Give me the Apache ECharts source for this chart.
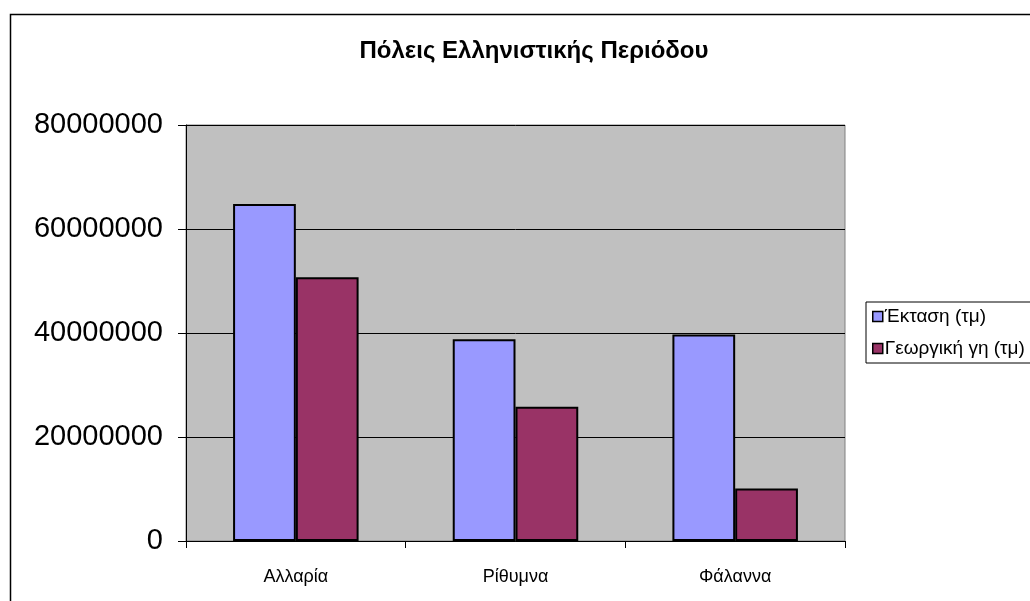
<!DOCTYPE html>
<html>
<head>
<meta charset="utf-8">
<script src="https://cdn.jsdelivr.net/npm/echarts@6/dist/echarts.min.js"></script>
<style>
html,body{margin:0;padding:0;background:#fff;}
#chart{width:1030px;height:601px;}
</style>
</head>
<body>
<div id="chart"></div>
<script>
var categories = ['Αλλαρία', 'Ρίθυμνα', 'Φάλαννα'];
var seriesNames = ['Έκταση (τμ)', 'Γεωργική γη (τμ)'];
var areaValues = [64800000, 38800000, 39700000];
var farmValues = [50700000, 25800000, 10100000];
var yTicks = [0, 20000000, 40000000, 60000000, 80000000];

var chart = echarts.init(document.getElementById('chart'), null, {renderer: 'canvas'});
var font = 'Arial, "Liberation Sans", sans-serif';
chart.setOption({
  animation: false,
  backgroundColor: '#ffffff',
  graphic: [{
    type: 'rect', left: 8, top: 12, silent: true,
    shape: {width: 1100, height: 700},
    style: {fill: 'none', stroke: '#000', lineWidth: 1.5}
  }],
  title: {
    text: 'Πόλεις Ελληνιστικής Περιόδου',
    left: 529, top: 34, textAlign: 'center',
    textStyle: {fontFamily: font, fontSize: 24, fontWeight: 'bold', color: '#000'}
  },
  legend: {
    orient: 'vertical',
    left: 866, top: 302,
    padding: [5, 40, 5, 6],
    itemWidth: 10, itemHeight: 10, itemGap: 13,
    borderColor: '#000', borderWidth: 1,
    icon: 'rect',
    itemStyle: {borderColor: '#000', borderWidth: 1.5},
    textStyle: {fontFamily: font, fontSize: 19, lineHeight: 19, color: '#000', padding: [0, 0, 0, -3]},
    data: seriesNames
  },
  grid: {
    left: 186, right: 185, top: 125, bottom: 60,
    show: true, backgroundColor: '#C0C0C0', borderColor: '#808080', borderWidth: 1
  },
  xAxis: {
    type: 'category',
    data: categories,
    axisLine: {show: true, lineStyle: {color: '#000', width: 1}},
    axisTick: {show: true, length: 7, alignWithLabel: false, lineStyle: {color: '#000'}},
    axisLabel: {fontFamily: font, fontSize: 18, color: '#000', margin: 27}
  },
  yAxis: {
    type: 'value',
    min: yTicks[0], max: yTicks[yTicks.length - 1], interval: yTicks[1] - yTicks[0],
    axisLine: {show: true, lineStyle: {color: '#000', width: 1}},
    axisTick: {show: true, length: 8, lineStyle: {color: '#000'}},
    axisLabel: {fontFamily: font, fontSize: 29, color: '#000', margin: 23,
      formatter: function (v) { return String(v); }},
    splitLine: {show: true, lineStyle: {color: '#000', width: 1}}
  },
  series: [
    {
      name: seriesNames[0], type: 'bar', data: areaValues,
      barGap: '0%', barCategoryGap: '42.86%',
      itemStyle: {color: '#9999FF', borderColor: '#000', borderWidth: 2}
    },
    {
      name: seriesNames[1], type: 'bar', data: farmValues,
      barGap: '0%', barCategoryGap: '42.86%',
      itemStyle: {color: '#993366', borderColor: '#000', borderWidth: 2}
    }
  ]
});
</script>
</body>
</html>
